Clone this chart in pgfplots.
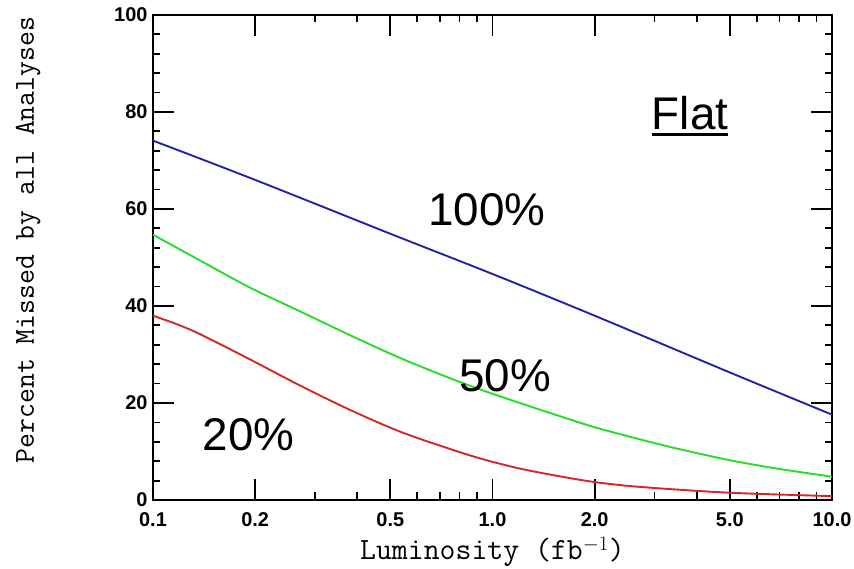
\documentclass[border=0pt]{standalone}
\usepackage{fontspec}
\setmainfont{Liberation Sans}
\usepackage{pgfplots}
\pgfplotsset{compat=1.18}
\definecolor{cblue}{RGB}{35,35,170}
\definecolor{cgreen}{RGB}{40,220,40}
\definecolor{cred}{RGB}{210,40,40}
\begin{document}
\begin{tikzpicture}
\begin{axis}[
  at={(0,0)}, anchor=south west,
  scale only axis, width=679bp, height=485bp,
  xmode=log, xmin=0.1, xmax=10, ymin=0, ymax=100,
  axis line style={line width=2.4bp},
  xtick={0.1,0.2,0.5,1,2,5,10},
  xticklabels={0.1,0.2,0.5,1.0,2.0,5.0,10.0},
  minor xtick={0.3,0.4,0.6,0.7,0.8,0.9,3,4,6,7,8,9},
  ytick={0,20,40,60,80,100},
  yticklabels={0,20,40,60,80,100},
  minor y tick num=4,
  major tick length=21bp, minor tick length=7.5bp,
  every tick/.append style={black, line width=1.8bp},
  ticklabel style={font=\fontsize{20}{20}\selectfont\bfseries},
  xticklabel style={yshift=-9bp},
  yticklabel style={xshift=-2bp},
  xlabel={Luminosity (fb$^{-1}$)},
  ylabel={Percent Missed by all Analyses},
  label style={font=\fontsize{29}{30}\selectfont\ttfamily},
  xlabel style={font=\fontsize{31}{32}\selectfont\ttfamily, inner sep=0pt, at={(axis description cs:0.5,-0.106)}, anchor=center},
  ylabel style={at={(axis description cs:-0.184,0.536)}, anchor=center},
]
\addplot[cblue, line width=1.9bp, smooth] coordinates {
(0.1,74.1) (0.2,66.0) (0.5,54.9) (1,46.6) (2,38.0) (5,26.3) (10,17.6)};
\addplot[cgreen, line width=1.9bp, smooth] coordinates {
(0.1,54.7) (0.1375,49.4) (0.193,43.8) (0.271,38.9) (0.38,34.0) (0.534,29.3)
(0.751,25.1) (1.0,21.9) (1.545,17.5) (2.0,15.0) (2.72,12.5) (3.5,10.6)
(5,8.2) (7,6.4) (10,4.8)};
\addplot[cred, line width=1.9bp, smooth] coordinates {
(0.1,38.0) (0.118,36.2) (0.1375,34.2) (0.193,29.0) (0.271,23.6) (0.38,18.6)
(0.534,14.1) (0.751,10.5) (0.938,8.4) (1.2,6.5) (1.545,5.0) (2.0,3.7)
(2.72,2.7) (5,1.5) (10,0.8)};
\node[anchor=base, inner sep=0pt, font=\fontsize{46}{46}\selectfont] at (axis cs:0.963,56.7) {100\%};
\node[anchor=base, inner sep=0pt, font=\fontsize{46}{46}\selectfont] at (axis cs:1.089,22.3) {50\%};
\node[anchor=base, inner sep=0pt, font=\fontsize{46}{46}\selectfont] at (axis cs:0.191,10.3) {20\%};
\node[anchor=base, inner sep=0pt, font=\fontsize{46}{46}\selectfont] (flat) at (axis cs:3.82,76.4) {Flat};
\draw[line width=3bp] ([yshift=-5bp]flat.base west) -- ([yshift=-5bp]flat.base east);
\end{axis}
\pgfresetboundingbox
\path[use as bounding box] (-153bp,-69bp) rectangle (701bp,500bp);
\end{tikzpicture}
\end{document}
